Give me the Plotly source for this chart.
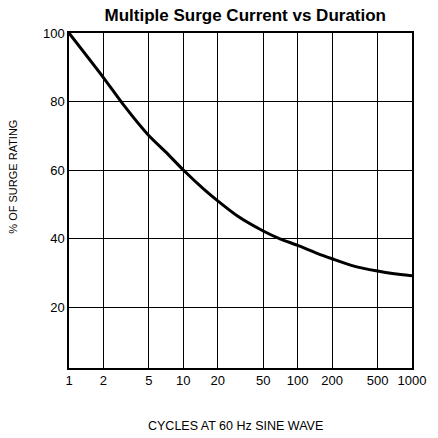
import plotly.graph_objects as go

# Data (cycles at 60 Hz vs % of surge rating)
cycles = [1, 2, 3, 5, 7, 10, 15, 20, 30, 50, 70, 100, 150, 200, 300, 500, 700, 1000]
pct_surge = [100, 87, 79, 70, 65.3, 60, 54.5, 51, 46.5, 42.2, 39.9, 38, 35.6, 34.1, 32.1, 30.5, 29.7, 29.1]

x_ticks = [1, 2, 5, 10, 20, 50, 100, 200, 500, 1000]
x_tick_labels = ["1", "2", "5", "10", "20", "50", "100", "200", "500", "1000"]
y_ticks = [20, 40, 60, 80, 100]

fig = go.Figure()
fig.add_trace(go.Scatter(
    x=cycles, y=pct_surge, mode="lines",
    line=dict(color="black", width=3, shape="spline", smoothing=0.6),
    showlegend=False, hoverinfo="skip",
))

font_main = "Liberation Sans, Arial, Helvetica, sans-serif"

fig.update_layout(
    width=438, height=438,
    margin=dict(l=69, r=22, t=33, b=70),
    paper_bgcolor="white", plot_bgcolor="white",
    font=dict(family=font_main, color="black", size=13),
    title=dict(
        text="<b>Multiple Surge Current vs Duration</b>",
        x=0.56, xanchor="center", y=0.965, yanchor="middle",
        font=dict(family="Liberation Sans Narrow, Liberation Sans, Arial", size=17, color="black"),
    ),
    xaxis=dict(
        type="log", range=[0, 3],
        tickvals=x_ticks, ticktext=x_tick_labels,
        showgrid=True, gridcolor="black", gridwidth=1,
        showline=True, linecolor="black", linewidth=1.5, mirror=True,
        ticks="", zeroline=False,
        tickfont=dict(size=13),
    ),
    yaxis=dict(
        range=[2.2, 100],
        tickvals=y_ticks,
        showgrid=True, gridcolor="black", gridwidth=1,
        showline=True, linecolor="black", linewidth=1.5, mirror=True,
        ticks="", zeroline=False,
        tickfont=dict(size=13),
    ),
    annotations=[
        dict(text="CYCLES AT 60 Hz SINE WAVE", xref="paper", yref="paper",
             x=(237.5 - 69) / 347, y=-(426 - 368) / 335, xanchor="center", yanchor="middle",
             showarrow=False, font=dict(size=12.5, color="black")),
        dict(text="% OF SURGE RATING", xref="paper", yref="paper",
             x=-(69 - 12) / 347, y=(368 - 177) / 335, xanchor="center", yanchor="middle",
             textangle=-90, showarrow=False, font=dict(size=11, color="black")),
    ],
)

fig.write_html("out.html", config={"displayModeBar": False},
               post_script="document.body.style.margin='0px';")
